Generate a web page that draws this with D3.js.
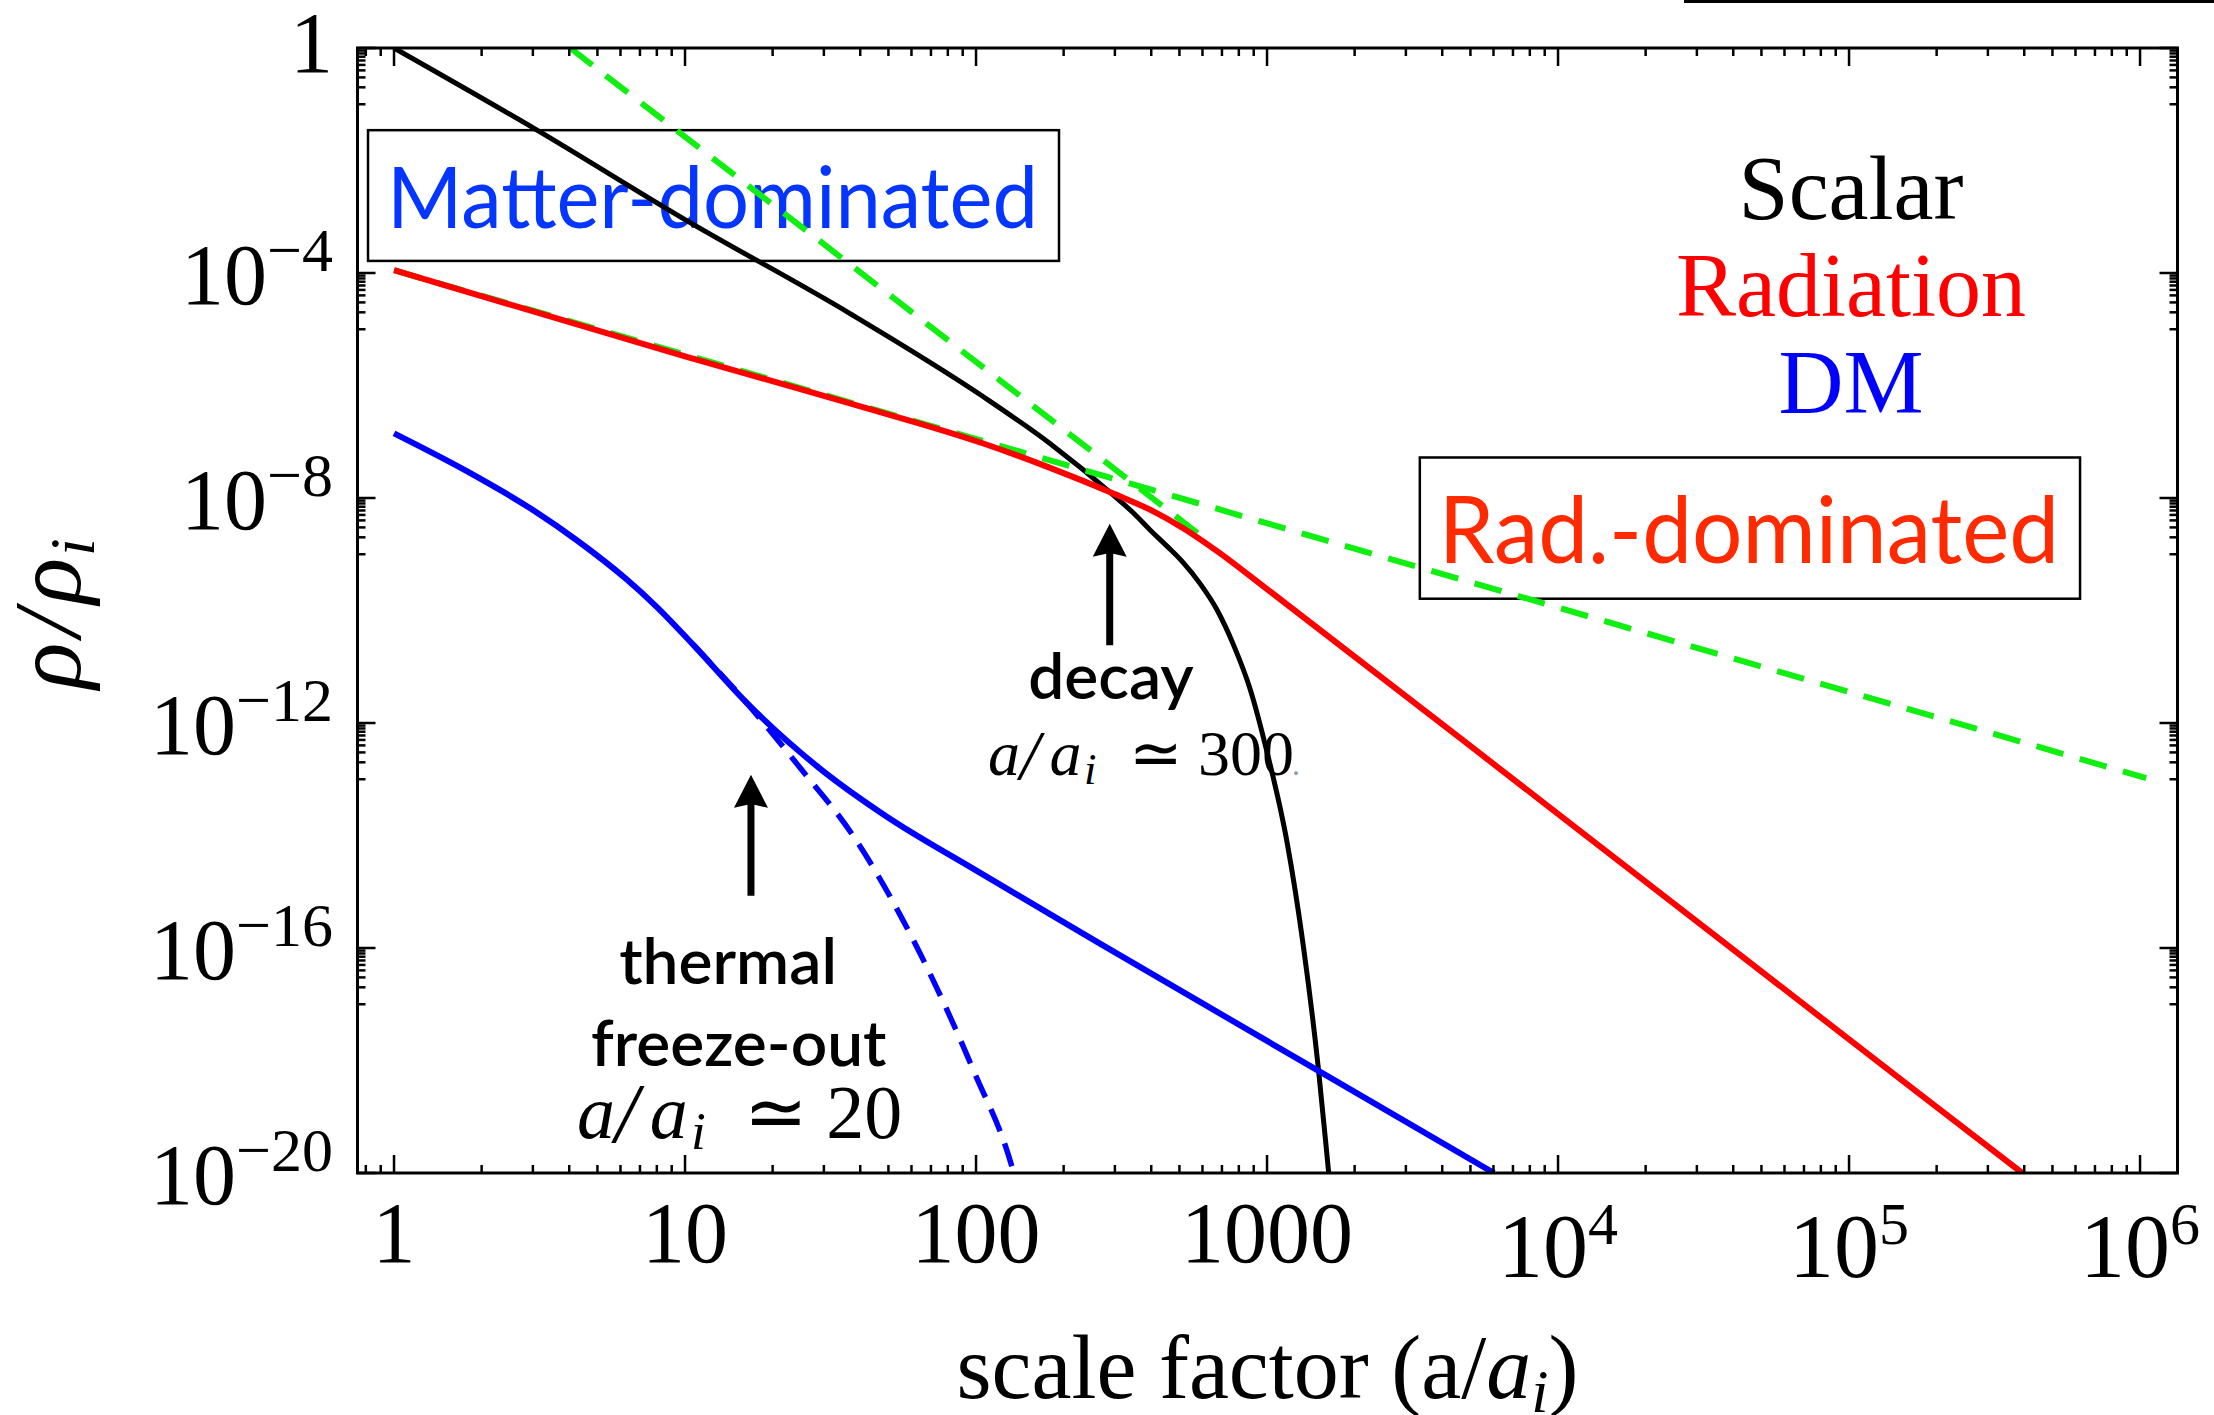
<!DOCTYPE html>
<html>
<head>
<meta charset="utf-8">
<script src="https://cdn.jsdelivr.net/npm/d3@7"></script>
<style>
  body { margin: 0; background: #fff; }
  svg { display: block; }
  .serif { font-family: "Liberation Serif", "Times New Roman", serif; }
  .sans { font-family: Lato, "Open Sans", sans-serif; }
</style>
</head>
<body>
<div id="chart"></div>
<script>
// scalar field (black)
var scalarA   = [1, 3.1, 10, 36.9, 106, 179.5, 296.5, 347.5, 396.3, 451.9, 515.2, 588.8, 671.4, 765.6, 875, 997.7, 1170, 1334, 1503, 1626, 1738];
var scalarRho = [1, 3.47e-2, 8.9e-4, 1.9e-5, 6.3e-7, 9.3e-8, 1.12e-8, 5.4e-9, 2.7e-9, 1.41e-9, 7.1e-10, 3.0e-10, 1.05e-10, 2.5e-11, 4.0e-12, 3.2e-13, 7.9e-15, 1.05e-16, 6.8e-19, 1.1e-20, 3e-22];

// radiation (red)
var radA   = [1, 10, 36.9, 106, 178, 296.5, 396.3, 515.2, 671.4, 1000, 9397, 158100, 393600];
var radRho = [1.12e-4, 3.3e-6, 4.8e-7, 9.3e-8, 3.5e-8, 1.2e-8, 6.2e-9, 2.9e-9, 1.15e-9, 2.4e-10, 3.1e-14, 3.8e-19, 1e-20];

// dark matter (blue, solid)
var dmA   = [1, 1.778, 3.02, 4.27, 6.31, 7.94, 10.72, 16.14, 28.94, 49.1, 100, 179.5, 266.7, 1483, 6026];
var dmRho = [1.41e-7, 3.0e-8, 6.0e-9, 1.74e-9, 3.55e-10, 1.2e-10, 2.4e-11, 2.4e-12, 1.58e-13, 2.2e-14, 2.4e-15, 4.0e-16, 1.2e-16, 6.8e-19, 1e-20];

// dark matter kept in equilibrium (blue, dashed)
var eqA   = [10.72, 16.14, 25.1, 37.2, 64.7, 98.2, 133.4, 138];
var eqRho = [2.4e-11, 2.4e-12, 1.5e-13, 1.12e-14, 7.4e-17, 6.5e-19, 1.2e-20, 6.3e-21];

// guide lines (green, dashed)
var matterGuideA   = [4.03, 637];
var matterGuideRho = [1, 1.6e-9];
var radGuideA   = [1, 1.05e6];
var radGuideRho = [1.12e-4, 1.05e-13];

// ticks
var xTicks    = [1, 10, 100, 1000, 1e4, 1e5, 1e6];
var xTickMain = ["1", "10", "100", "1000", "10", "10", "10"];
var xTickSup  = ["", "", "", "", "4", "5", "6"];
var yTicks    = [1, 1e-4, 1e-8, 1e-12, 1e-16, 1e-20];
var yTickMain = ["1", "10", "10", "10", "10", "10"];
var yTickSup  = ["", "\u22124", "\u22128", "\u221212", "\u221216", "\u221220"];

var legendNames  = ["Scalar", "Radiation", "DM"];
var legendColors = ["#000000", "#ff0000", "#0000ff"];

var W = 2214, H = 1415;
var margin = { top: 48, right: 2214 - 2177.5, bottom: 1415 - 1173, left: 357.5 };

var svg = d3.select("#chart").append("svg")
  .attr("width", W)
  .attr("height", H);

var x = d3.scaleLog().domain([0.749, 1.345e6]).range([margin.left, W - margin.right]);
var y = d3.scaleLog().domain([1e-20, 1]).range([H - margin.bottom, margin.top]);

function zip(a, r) { return a.map(function(v, i) { return [v, r[i]]; }); }

var line = d3.line()
  .x(function(d) { return x(d[0]); })
  .y(function(d) { return y(d[1]); })
  .curve(d3.curveMonotoneX);

// stray rule at the top right (edge of the neighbouring panel)
svg.append("line")
  .attr("x1", 1684).attr("x2", W)
  .attr("y1", 1.5).attr("y2", 1.5)
  .style("stroke", "black").style("stroke-width", 3);

svg.append("clipPath").attr("id", "plotclip")
  .append("rect")
  .attr("x", x.range()[0]).attr("y", y.range()[1])
  .attr("width", x.range()[1] - x.range()[0])
  .attr("height", y.range()[0] - y.range()[1]);

// annotation boxes (drawn under the curves)
function box(a0, a1, r0, r1, label, color, size) {
  var bx = x(a0), by = y(r0), bw = x(a1) - x(a0), bh = y(r1) - y(r0);
  svg.append("rect")
    .attr("x", bx).attr("y", by).attr("width", bw).attr("height", bh)
    .style("fill", "none").style("stroke", "black").style("stroke-width", 2.5);
  svg.append("text").attr("class", "sans")
    .attr("x", bx + 19).attr("y", by + bh * 0.745)
    .attr("textLength", bw - 40).attr("lengthAdjust", "spacingAndGlyphs")
    .style("font-size", size + "px").style("fill", color)
    .text(label);
}
box(0.814, 192.8, 3.46e-2, 1.64e-4, "Matter-dominated", "#0436ff", 86);
box(3350, 6.22e5, 5.25e-8, 1.62e-10, "Rad.-dominated", "#ff2a00", 94);

var plot = svg.append("g").attr("clip-path", "url(#plotclip)");

plot.append("path").datum(zip(scalarA, scalarRho))
  .attr("d", line).style("fill", "none").style("stroke", "#000").style("stroke-width", 5);

plot.append("path").datum(zip(eqA, eqRho))
  .attr("d", line).style("fill", "none").style("stroke", "#0000ff").style("stroke-width", 5.5)
  .style("stroke-dasharray", "24,13");

plot.append("path").datum(zip(dmA, dmRho))
  .attr("d", line).style("fill", "none").style("stroke", "#0000ff").style("stroke-width", 6);

plot.append("path").datum(zip(matterGuideA, matterGuideRho))
  .attr("d", line).style("fill", "none").style("stroke", "#11ee11").style("stroke-width", 6)
  .style("stroke-dasharray", "28,17");
plot.append("path").datum(zip(radGuideA, radGuideRho))
  .attr("d", line).style("fill", "none").style("stroke", "#11ee11").style("stroke-width", 6)
  .style("stroke-dasharray", "28,17");

plot.append("path").datum(zip(radA, radRho))
  .attr("d", line).style("fill", "none").style("stroke", "#ff0000").style("stroke-width", 6);

// frame
svg.append("rect")
  .attr("x", x.range()[0]).attr("y", y.range()[1])
  .attr("width", x.range()[1] - x.range()[0])
  .attr("height", y.range()[0] - y.range()[1])
  .style("fill", "none").style("stroke", "black").style("stroke-width", 3);

// ticks, all pointing inwards on four sides
var xMinor = [];
for (var k = -1; k <= 6; k++) {
  for (var j = 2; j <= 9; j++) {
    var v = j * Math.pow(10, k);
    if (v > x.domain()[0] && v < x.domain()[1]) xMinor.push(v);
  }
}
var yMinor = [];
yTicks.forEach(function(t) {
  for (var j = 1; j <= 9; j++) {
    var v = j * t / 10;
    if (v > y.domain()[0]) yMinor.push(v);
  }
});

var ticks = svg.append("g").style("stroke", "black").style("stroke-width", 2.5);
var yb = y.range()[0], yt = y.range()[1], xl = x.range()[0], xr = x.range()[1];
function xtick(v, len) {
  ticks.append("line").attr("x1", x(v)).attr("x2", x(v)).attr("y1", yb).attr("y2", yb - len);
  ticks.append("line").attr("x1", x(v)).attr("x2", x(v)).attr("y1", yt).attr("y2", yt + len);
}
function ytick(v, len) {
  ticks.append("line").attr("y1", y(v)).attr("y2", y(v)).attr("x1", xl).attr("x2", xl + len);
  ticks.append("line").attr("y1", y(v)).attr("y2", y(v)).attr("x1", xr).attr("x2", xr - len);
}
xTicks.forEach(function(v) { xtick(v, 18); });
xMinor.forEach(function(v) { xtick(v, 8); });
yTicks.forEach(function(v) { ytick(v, 18); });
yMinor.forEach(function(v) { ytick(v, 8); });

// tick labels
xTicks.forEach(function(v, i) {
  var hasSup = xTickSup[i] !== "";
  var t = svg.append("text").attr("class", "serif")
    .attr("x", x(v)).attr("y", hasSup ? 1277 : 1262)
    .attr("text-anchor", "middle")
    .style("font-size", (hasSup ? 90 : 86) + "px");
  t.append("tspan").text(xTickMain[i]);
  if (hasSup) t.append("tspan").attr("dy", -33).style("font-size", "60px").text(xTickSup[i]);
});

yTicks.forEach(function(v, i) {
  var hasSup = yTickSup[i] !== "";
  var t = svg.append("text").attr("class", "serif")
    .attr("x", 333).attr("y", y(v) + (hasSup ? 31 : 24))
    .attr("text-anchor", "end")
    .style("font-size", "86px");
  t.append("tspan").text(yTickMain[i]);
  if (hasSup) t.append("tspan").attr("dy", -33).style("font-size", "62px").text(yTickSup[i]);
});

// axis titles
var xt = svg.append("text").attr("class", "serif")
  .attr("x", (xl + xr) / 2).attr("y", 1398)
  .attr("text-anchor", "middle").style("font-size", "90px");
xt.append("tspan").text("scale factor (a/");
xt.append("tspan").style("font-style", "italic").text("a");
xt.append("tspan").style("font-style", "italic").style("font-size", "62px").attr("dy", 14).text("i");
xt.append("tspan").attr("dy", -14).text(")");

var yTitle = svg.append("text").attr("class", "serif")
  .attr("transform", "translate(80," + ((yt + yb) / 2 + 3) + ") rotate(-90)")
  .attr("text-anchor", "middle")
  .style("font-size", "96px").style("font-style", "italic");
yTitle.append("tspan").text("\u03c1");
yTitle.append("tspan").attr("dx", 6).text("/");
yTitle.append("tspan").attr("dx", 6).text("\u03c1");
yTitle.append("tspan").style("font-size", "64px").attr("dx", 2).attr("dy", 14).text("i");

// legend
legendNames.forEach(function(name, i) {
  svg.append("text").attr("class", "serif")
    .attr("x", x(1.016e5)).attr("y", 219 + i * 97)
    .attr("text-anchor", "middle")
    .style("font-size", "90px").style("fill", legendColors[i])
    .text(name);
});

// arrows
function arrow(a, rTip, rEnd) {
  var ax = x(a), y0 = y(rTip), y1 = y(rEnd);
  svg.append("path")
    .attr("d", "M" + (ax - 3.5) + "," + y1 + "L" + (ax - 3.5) + "," + (y0 + 30) +
      "L" + (ax - 17) + "," + (y0 + 33) + "L" + ax + "," + y0 + "L" + (ax + 17) + "," + (y0 + 33) +
      "L" + (ax + 3.5) + "," + (y0 + 30) + "L" + (ax + 3.5) + "," + y1 + "Z")
    .style("fill", "black");
}
arrow(288, 3.5e-9, 2.4e-11);
arrow(16.85, 1.2e-13, 8.5e-16);

function note(a, r, str, size) {
  svg.append("text").attr("class", "sans")
    .attr("x", x(a)).attr("y", y(r)).attr("text-anchor", "middle")
    .style("font-size", size + "px").style("font-weight", 600)
    .text(str);
}
note(291, 2.7e-12, "decay", 64);
note(14.06, 2.3e-17, "thermal", 64);
note(15.3, 8.1e-19, "freeze-out", 64);

// a/a_i ~ N, spaced like TeX math
function mathNote(a, r, num, size, dot) {
  var x0 = x(a), y0 = y(r);
  var g = svg.append("g").attr("class", "serif").style("font-size", size + "px");
  function part(str, off, italic, fs, dy, fill) {
    g.append("text").attr("x", x0 + off * size).attr("y", y0 + (dy || 0))
      .style("font-style", italic ? "italic" : "normal")
      .style("font-size", (fs || size) + "px")
      .style("fill", fill || "#000")
      .text(str);
  }
  part("a", 0, true);
  part("/", 0.5, true, size * 1.1, 4);
  part("a", 0.96, true);
  part("i", 1.5, true, size * 0.7, size * 0.15);
  part("\u2243", 2.2, false);
  part(num, 3.28, false);
  if (dot) part(".", 4.75, false, size * 0.5, 0, "#999");
}
mathNote(110, 1.2e-13, "300", 64, true);
mathNote(4.25, 4.2e-20, "20", 76, false);
</script>
</body>
</html>
